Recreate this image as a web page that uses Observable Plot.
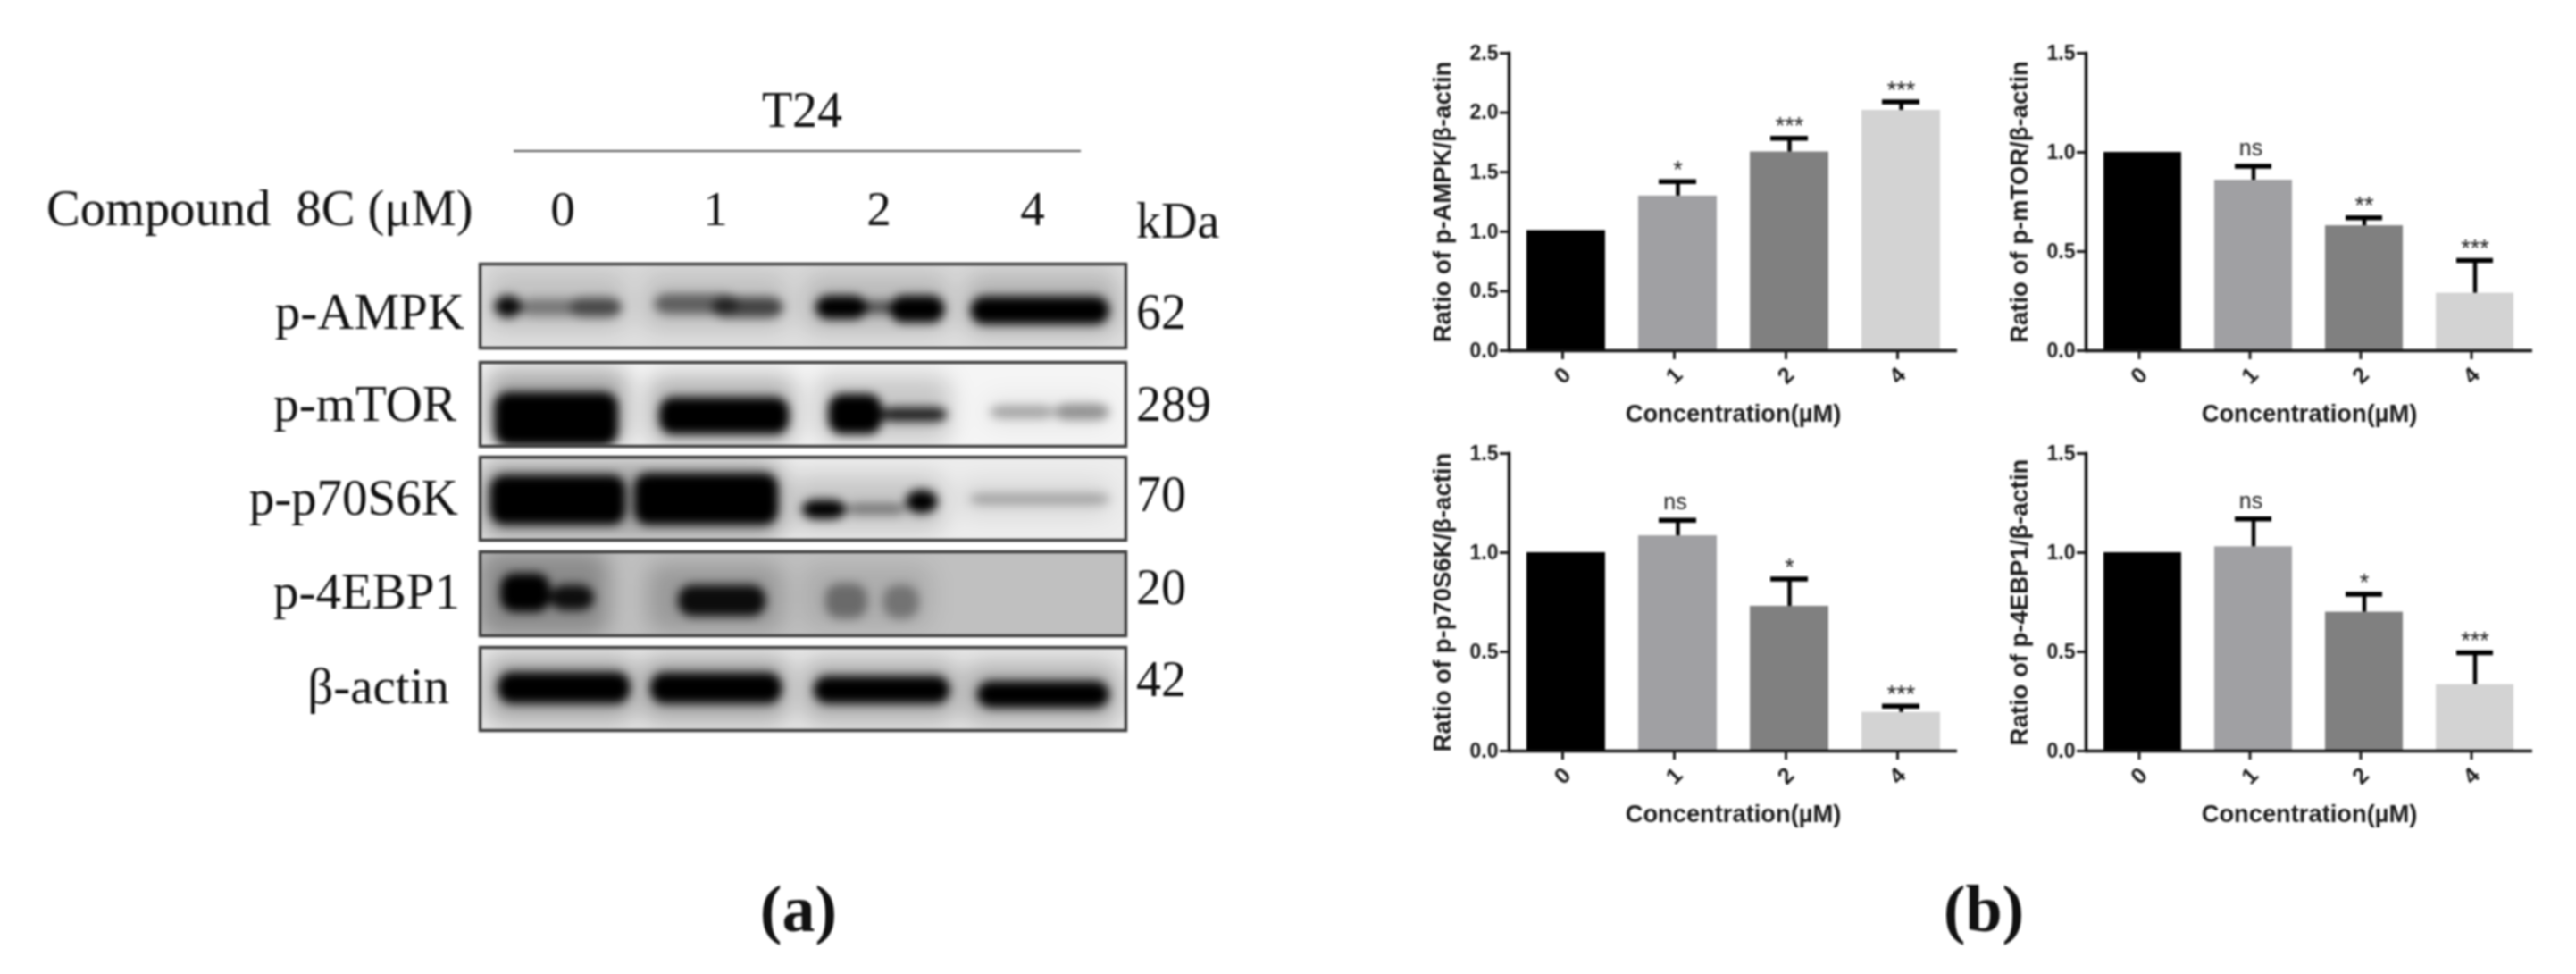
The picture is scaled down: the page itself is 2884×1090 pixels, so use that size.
<!DOCTYPE html>
<html><head><meta charset="utf-8">
<script src="https://cdn.jsdelivr.net/npm/d3@7"></script>
<script src="https://cdn.jsdelivr.net/npm/@observablehq/plot@0.6"></script>
<style>
html,body{margin:0;padding:0;background:#fff;}
#page{position:relative;width:2884px;height:1090px;overflow:hidden;background:#fff;filter:blur(0.9px);}
.lab{position:absolute;white-space:pre;color:#111;font-family:"Liberation Serif",serif;line-height:1;}
.hold{position:absolute;}
.hold svg{display:block;overflow:visible;background:transparent;}
</style></head><body><div id="page"></div>
<script>
// ---- bar chart data ----
const concentrations = ["0","1","2","4"];
const barColors = ["#000000","#a0a0a3","#808080","#d3d3d3"];
const ampkMean = [1.01,1.30,1.67,2.02];
const ampkTop  = [null,1.42,1.785,2.09];
const ampkSig  = ["","*","***","***"];
const mtorMean = [1.0,0.86,0.63,0.29];
const mtorTop  = [null,0.93,0.67,0.455];
const mtorSig  = ["","ns","**","***"];
const s6kMean  = [1.0,1.085,0.73,0.195];
const s6kTop   = [null,1.163,0.867,0.226];
const s6kSig   = ["","ns","*","***"];
const ebpMean  = [1.0,1.03,0.70,0.335];
const ebpTop   = [null,1.17,0.79,0.496];
const ebpSig   = ["","ns","*","***"];

// ---- western-blot densities: [from %, to %, top %, bottom %, density] across each membrane ----
const blotAmpk = [[2.3,6.5,38,64,.95],[6,22,42,62,.38],[14,22,40,64,.4],[27,40,36,60,.5],[36,47,40,64,.65],[52,60,38,66,1],[58,65,44,60,.55],[63.5,72,38,70,1],[76,97.5,39,72,1]];
const blotMtor = [[2.3,21.4,36,100,1],[27.8,47.9,42,86,1],[54,62.3,38,86,1],[62,72.4,54,71,.85],[79,89,52,67,.3],[89,97.5,50,69,.38]];
const blotS6k  = [[1.6,22.6,22,82,1],[23.9,46.2,20,82,1],[49.9,56.7,52,75,1],[56.7,66,56,70,.4],[66,70.9,40,68,1],[75.9,97.5,44,58,.25]];
const blotEbp  = [[3.2,10.9,26,72,1],[10.9,17.7,40,70,.9],[30.7,44.3,40,77,.92],[53.5,60,38,80,.38],[62.5,68,40,80,.33]];
const blotActin= [[2.8,23.3,30,68,1],[26.4,46.8,31,68,1],[51.7,72.8,35,68,1],[77,97.5,41,73,1]];
const hazeAmpk = [[1,23,14,80,.14],[25,48,14,80,.14],[50,73,14,82,.17],[75,99,14,85,.2],[0,100,0,8,.12]];
const hazeMtor = [[1,23,8,100,.3],[26,49,16,100,.26],[52,73,16,96,.18],[78,98,40,80,.05]];
const hazeS6k  = [[0,47,6,100,.32],[48,72,22,90,.16],[74,98,28,72,.08]];
const hazeEbp  = [[0,20,0,100,.28],[26,47,14,96,.2],[50,70,16,92,.1]];
const hazeActin= [[1,24,12,90,.28],[25,48,12,90,.28],[50,74,16,90,.25],[75,99,20,92,.25]];

const blots = [
  {name:"p-AMPK",  kda:"62",  bands:blotAmpk,  haze:hazeAmpk,  bg:"#e0e0e0", top:295, h:94},
  {name:"p-mTOR",  kda:"289", bands:blotMtor,  haze:hazeMtor,  bg:"#f5f5f5", top:405, h:94},
  {name:"p-p70S6K",kda:"70",  bands:blotS6k,   haze:hazeS6k,   bg:"#ededed", top:511, h:93},
  {name:"p-4EBP1", kda:"20",  bands:blotEbp,   haze:hazeEbp,   bg:"#c0c0c0", top:617, h:94},
  {name:"β-actin", kda:"42",  bands:blotActin, haze:hazeActin, bg:"#e8e8e8", top:724, h:93}
];

const page = document.getElementById("page");
const hold = (node,left,top)=>{const d=document.createElement("div");d.className="hold";d.style.left=left+"px";d.style.top=top+"px";d.appendChild(node);page.appendChild(d);};
const lab = (t,x,y,anchor,size,weight)=>{const d=document.createElement("div");d.className="lab";d.textContent=t;
  d.style.left=x+"px";d.style.top=y+"px";d.style.fontSize=size+"px";if(weight)d.style.fontWeight=weight;
  d.style.transform=`translate(${anchor==="end"?"-100%":anchor==="middle"?"-50%":"0"},-50%)`;page.appendChild(d);};

const toRect = a=>a.map(([x1,x2,y1,y2,k])=>({x1,x2,y1,y2,k}));
for (const b of blots) {
  hold(Plot.plot({
    width:723,height:b.h,margin:0,
    x:{domain:[0,100],axis:null},
    y:{domain:[0,100],reverse:true,axis:null},
    marks:[
      Plot.frame({fill:b.bg,stroke:null}),
      Plot.rect(toRect(b.haze),{x1:"x1",x2:"x2",y1:"y1",y2:"y2",fill:"#000",fillOpacity:"k",rx:18,imageFilter:"blur(13px)",clip:"frame"}),
      Plot.rect(toRect(b.bands),{x1:"x1",x2:"x2",y1:"y1",y2:"y2",fill:"#000",fillOpacity:"k",rx:16,imageFilter:"blur(5.5px)",clip:"frame"}),
      Plot.frame({stroke:"#3f3f3f",strokeWidth:3.5})
    ]
  }),537,b.top);
}

function barChart(left,top,width,marginLeft,meanArr,topArr,sigArr,ymax,label,plotHeight){
  const rows = concentrations.map((c,i)=>({c,mean:meanArr[i],top:topArr[i],sig:sigArr[i],color:barColors[i]}));
  const err = rows.filter(r=>r.top!=null);
  hold(Plot.plot({
    width,height:450,marginLeft,marginRight:0,marginTop:29,marginBottom:450-plotHeight-29,
    style:{fontFamily:"'Liberation Sans',Arial,sans-serif",color:"#1a1a1a",background:"transparent"},
    x:{type:"band",domain:concentrations,paddingInner:.298,paddingOuter:.15},
    y:{domain:[0,ymax]},
    color:{type:"identity"},
    marks:[
      Plot.barY(rows,{x:"c",y:"mean",fill:"color"}),
      Plot.ruleX(err,{x:"c",y1:"mean",y2:"top",stroke:"#000",strokeWidth:4.5}),
      Plot.tickY(err,{x:"c",y:"top",stroke:"#000",strokeWidth:5.5,insetLeft:23,insetRight:23}),
      Plot.text(err.filter(r=>r.sig!=="ns"),{x:"c",y:"top",text:"sig",dy:-13,fontSize:27,fill:"#222"}),
      Plot.text(err.filter(r=>r.sig==="ns"),{x:"c",y:"top",text:"sig",dy:-20,fontSize:25,fill:"#222",dx:-3}),
      Plot.frame({anchor:"left",stroke:"#111",strokeWidth:3.5}),
      Plot.ruleY([0],{stroke:"#111",strokeWidth:3.5}),
      Plot.axisY({ticks:d3.range(0,ymax+.01,.5),tickFormat:d=>d.toFixed(1),tickSize:10,strokeWidth:3,tickPadding:2,
        fontSize:23,fontWeight:700,label:null}),
      Plot.axisY({ticks:[],label,labelAnchor:"center",labelArrow:"none",labelOffset:85,fontSize:27.5,fontWeight:700}),
      Plot.axisX({tickSize:10,strokeWidth:3,tickPadding:18,tickRotate:-45,textAnchor:"middle",dx:-4,fontSize:25,fontWeight:700,label:null}),
      Plot.axisX({ticks:[],label:"Concentration(µM)",labelAnchor:"center",labelArrow:"none",labelOffset:79,fontSize:27.3,fontWeight:700})
    ]
  }),left,top);
}
barChart(1560,30,631,129,ampkMean,ampkTop,ampkSig,2.5,"Ratio of p-AMPK/β-actin",333);
barChart(2220,30,615,115,mtorMean,mtorTop,mtorSig,1.5,"Ratio of p-mTOR/β-actin",333);
barChart(1560,478,631,129,s6kMean,s6kTop,s6kSig,1.5,"Ratio of p-p70S6K/β-actin",333);
barChart(2220,478,615,115,ebpMean,ebpTop,ebpSig,1.5,"Ratio of p-4EBP1/β-actin",333);

// ---- labels around the blot ----
lab("T24",898,123,"middle",56);
const line=document.createElement("div");line.style.cssText="position:absolute;left:575px;top:168px;width:635px;height:2px;background:#555";page.appendChild(line);
lab("Compound  8C (μM)",52,233,"start",56.5);
[[630,"0"],[801,"1"],[984,"2"],[1156,"4"]].forEach(([x,t])=>lab(t,x,233,"middle",55));
lab("kDa",1272,247,"start",56);
const nameAt=[[520,348],[511,451],[513,556],[515,661],[503,767]];
const kdaAt=[349,452,553,657,760];
blots.forEach((b,i)=>{lab(b.name,nameAt[i][0],nameAt[i][1],"end",57);lab(b.kda,1272,kdaAt[i],"start",56);});
lab("(a)",894,1017,"middle",74,700);
lab("(b)",2221,1017,"middle",74,700);
</script></body></html>
